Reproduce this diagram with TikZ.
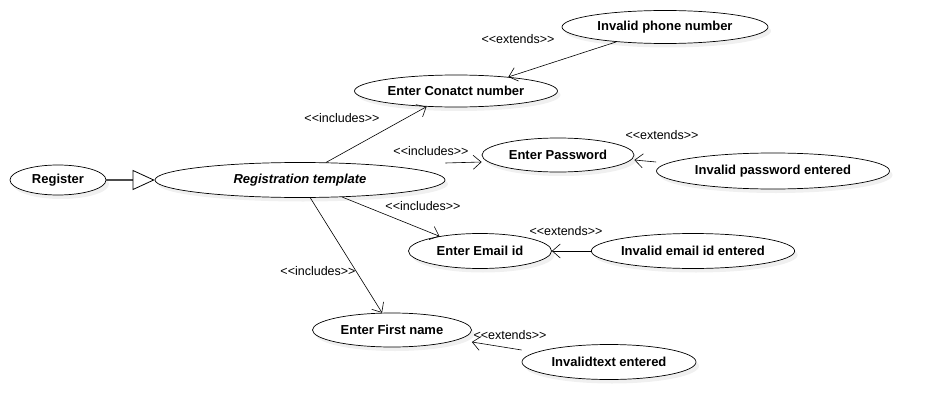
\documentclass[tikz,border=0pt]{standalone}
\usepackage{fontspec}
\setmainfont{Liberation Sans}
\usetikzlibrary{shapes,arrows.meta,positioning,shadows}

\begin{document}
\begin{tikzpicture}[x=1pt, y=1pt, thin]
  % Styles
  \tikzstyle{usecase} = [ellipse, draw, fill=white, line width=0.7pt, inner sep=0pt, font=\fontsize{13}{15}\selectfont\bfseries, drop shadow={opacity=0.12, shadow xshift=3pt, shadow yshift=-4pt}]
  \tikzstyle{stereo} = [font=\fontsize{12.5}{15}\selectfont, inner sep=0pt]
  \tikzstyle{arrow} = [draw, line width=0.6pt, -{Straight Barb[length=8pt, width=14pt, line width=0.6pt]}]
  \tikzstyle{generalize} = [draw, line width=1.2pt, black!70, -{Triangle[open, length=22pt, width=20pt, line width=0.8pt, black]}]

  \useasboundingbox (0,0) rectangle (931,-420);

  % Nodes
  \node[usecase, minimum width=96pt, minimum height=30pt] (register) at (58,-180) {Register};
  \node[usecase, minimum width=290pt, minimum height=35pt] (template) at (300,-180) {\itshape Registration template};
  \node[usecase, minimum width=203pt, minimum height=32pt] (contact) at (456,-91) {Enter Conatct number};
  \node[usecase, minimum width=206pt, minimum height=33pt] (badphone) at (665,-27) {Invalid phone number};
  \node[usecase, minimum width=152pt, minimum height=34pt] (password) at (558,-155) {Enter Password};
  \node[usecase, minimum width=233pt, minimum height=36pt] (badpass) at (773,-171) {Invalid password entered};
  \node[usecase, minimum width=143pt, minimum height=35pt] (email) at (480,-251) {Enter Email id};
  \node[usecase, minimum width=199pt, minimum height=35pt] (bademail) at (693,-251) {Invalid email id entered};
  \node[usecase, minimum width=159pt, minimum height=34pt] (firstname) at (392,-330) {Enter First name};
  \node[usecase, minimum width=174pt, minimum height=35pt] (badtext) at (609,-362) {Invalidtext entered};

  % Labels
  \node[stereo] (inccontact) at (342,-118) {<{}<includes>{}>};
  \node[stereo] (incpass) at (431,-151) {<{}<includes>{}>};
  \node[stereo] (incemail) at (423,-206) {<{}<includes>{}>};
  \node[stereo] (incfirst) at (318,-271) {<{}<includes>{}>};
  \node[stereo] (extphone) at (518,-39) {<{}<extends>{}>};
  \node[stereo] (extpass) at (662,-135) {<{}<extends>{}>};
  \node[stereo] (extemail) at (566,-231) {<{}<extends>{}>};
  \node[stereo] (exttext) at (510,-335) {<{}<extends>{}>};

  % Edges
  \path[generalize] (register) -- (template);
  \path[arrow] (template.34) -- (contact.208);
  \path[arrow] ([yshift=17pt]template.east) -- ([yshift=-7pt]password.west);
  \path[arrow] (template.338) -- (email.160);
  \path[arrow] (template.300) -- (firstname.120);
  \path[arrow] (badphone.197) -- (contact.15);
  \path[arrow] ([yshift=9pt]badpass.west) -- ([yshift=-5pt]password.east);
  \path[arrow] (bademail.west) -- (email.east);
  \path[arrow] ([yshift=12pt]badtext.west) -- ([yshift=-12pt]firstname.east);

\end{tikzpicture}
\end{document}
